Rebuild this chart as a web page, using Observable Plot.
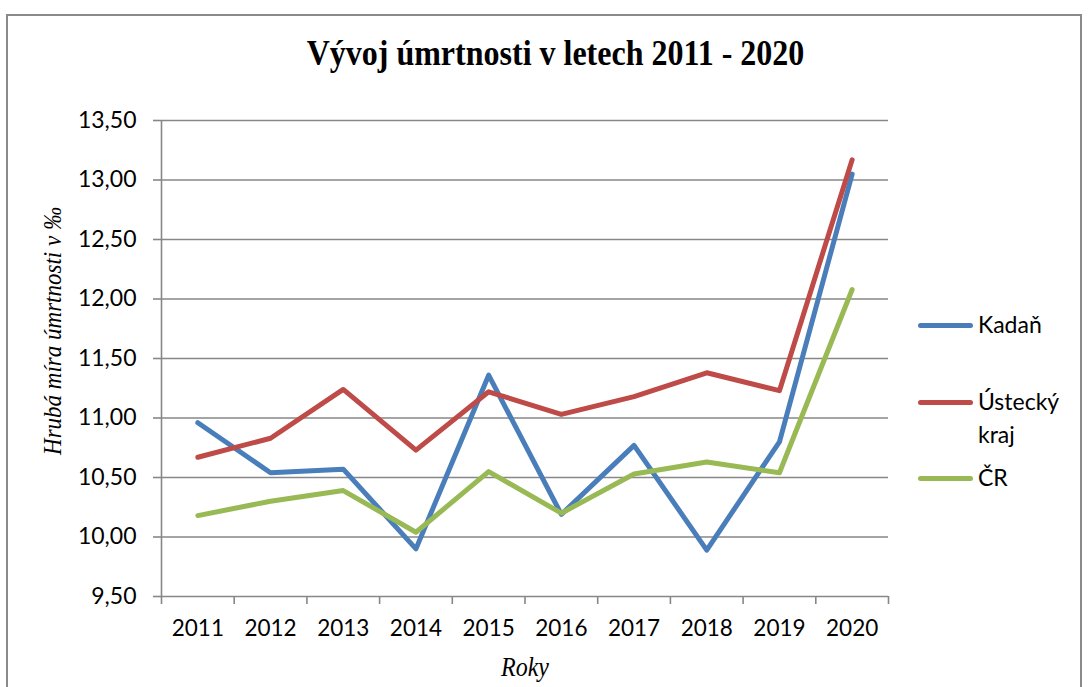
<!DOCTYPE html>
<html><head><meta charset="utf-8">
<script src="https://cdn.jsdelivr.net/npm/d3@7"></script>
<script src="https://cdn.jsdelivr.net/npm/@observablehq/plot@0.6"></script>
<style>
body{margin:0;background:#fff;}
#wrap{position:relative;width:1091px;height:687px;overflow:hidden;background:#fff;}
#frame{position:absolute;left:6px;top:14px;width:1076px;height:720px;border:2px solid #8a8a8a;box-sizing:border-box;}
#chart{position:absolute;left:0;top:0;}
#title{position:absolute;left:0;width:1111px;top:32px;text-align:center;font-family:"Liberation Serif",serif;font-weight:bold;font-size:32px;color:#000;white-space:nowrap;transform:scaleY(1.15);transform-origin:50% 0;}
#ytitle{position:absolute;left:53px;top:331px;transform:translate(-50%,-50%) rotate(-90deg) scaleY(1.1);font-family:"Liberation Serif",serif;font-style:italic;font-size:23px;white-space:nowrap;color:#000;}
#xtitle{position:absolute;left:525px;top:668px;transform:translate(-50%,-50%) scaleY(1.1);font-family:"Liberation Serif",serif;font-style:italic;font-size:24px;white-space:nowrap;color:#000;}
.leg{position:absolute;left:918px;font-family:Lato,sans-serif;font-size:23px;color:#000;line-height:33px;}
.leg .sw{position:absolute;left:0;width:55px;height:5px;border-radius:3px;}
.leg .tx{position:absolute;left:60px;white-space:nowrap;}
</style></head>
<body>
<div id="wrap">
  <div id="frame"></div>
  <div id="chart"></div>
  <div id="title"></div>
  <div id="ytitle"></div>
  <div id="xtitle"></div>
</div>
<script>
const years = [2011, 2012, 2013, 2014, 2015, 2016, 2017, 2018, 2019, 2020];
const kadan   = [10.96, 10.54, 10.57, 9.90, 11.36, 10.19, 10.77, 9.89, 10.80, 13.05];
const ustecky = [10.67, 10.83, 11.24, 10.73, 11.22, 11.03, 11.18, 11.38, 11.23, 13.17];
const cr      = [10.18, 10.30, 10.39, 10.04, 10.55, 10.20, 10.53, 10.63, 10.54, 12.08];
const seriesNames = ["Kadaň", "Ústecký kraj", "ČR"];
const seriesColors = ["#4a7ebb", "#be4b48", "#98b954"];
const yTicks = [9.5, 10, 10.5, 11, 11.5, 12, 12.5, 13, 13.5];
const titleText = "Vývoj úmrtnosti v letech 2011 - 2020";
const yLabel = "Hrubá míra úmrtnosti v ‰";
const xLabel = "Roky";

const seriesValues = [kadan, ustecky, cr];
const rows = [];
seriesNames.forEach((s, i) => years.forEach((y, j) => rows.push({series: s, year: y, value: seriesValues[i][j]})));
const bounds = [years[0] - 0.5, ...years.map(y => y + 0.5)];
const grey = "#878787";

const chart = Plot.plot({
  width: 1091, height: 687,
  marginLeft: 161, marginRight: 203, marginTop: 120, marginBottom: 91,
  x: {type: "linear", domain: [bounds[0], bounds[bounds.length - 1]]},
  y: {domain: [yTicks[0], yTicks[yTicks.length - 1]]},
  color: {domain: seriesNames, range: seriesColors},
  style: {fontFamily: "Lato, sans-serif", fontSize: "23px", color: "#000", background: "transparent"},
  marks: [
    Plot.gridY(yTicks, {stroke: grey, strokeOpacity: 1, strokeWidth: 1.6}),
    Plot.axisY(yTicks, {tickSize: 8, tickPadding: 17, stroke: grey, strokeWidth: 1.6, fill: "#000", fontSize: 23,
      tickFormat: d => d.toFixed(2).replace(".", ","), label: null}),
    Plot.ruleX([bounds[0]], {stroke: grey, strokeWidth: 1.6}),
    Plot.axisX(bounds, {tickSize: 8, stroke: grey, strokeWidth: 1.6, tickFormat: () => "", label: null}),
    Plot.axisX(years, {tickSize: 0, tickPadding: 24, fill: "#000", fontSize: 22.5, tickFormat: d => String(d), label: null}),
    Plot.line(rows, {x: "year", y: "value", z: "series", stroke: "series", strokeWidth: 5, strokeLinecap: "round", strokeLinejoin: "round"})
  ]
});
document.getElementById("chart").appendChild(chart);
document.getElementById("title").textContent = titleText;
document.getElementById("ytitle").textContent = yLabel;
document.getElementById("xtitle").textContent = xLabel;

// legend
const legTops = [325, 402, 478];
const wrap = document.getElementById("wrap");
seriesNames.forEach((s, i) => {
  const d = document.createElement("div");
  d.className = "leg";
  d.style.top = (legTops[i] - 17) + "px";
  const sw = document.createElement("div");
  sw.className = "sw"; sw.style.background = seriesColors[i]; sw.style.top = "15px";
  const tx = document.createElement("div");
  tx.className = "tx";
  if (s === "Ústecký kraj") { tx.innerHTML = "Ústecký<br>kraj"; } else tx.textContent = s;
  d.appendChild(sw); d.appendChild(tx);
  wrap.appendChild(d);
});
</script>
</body></html>
